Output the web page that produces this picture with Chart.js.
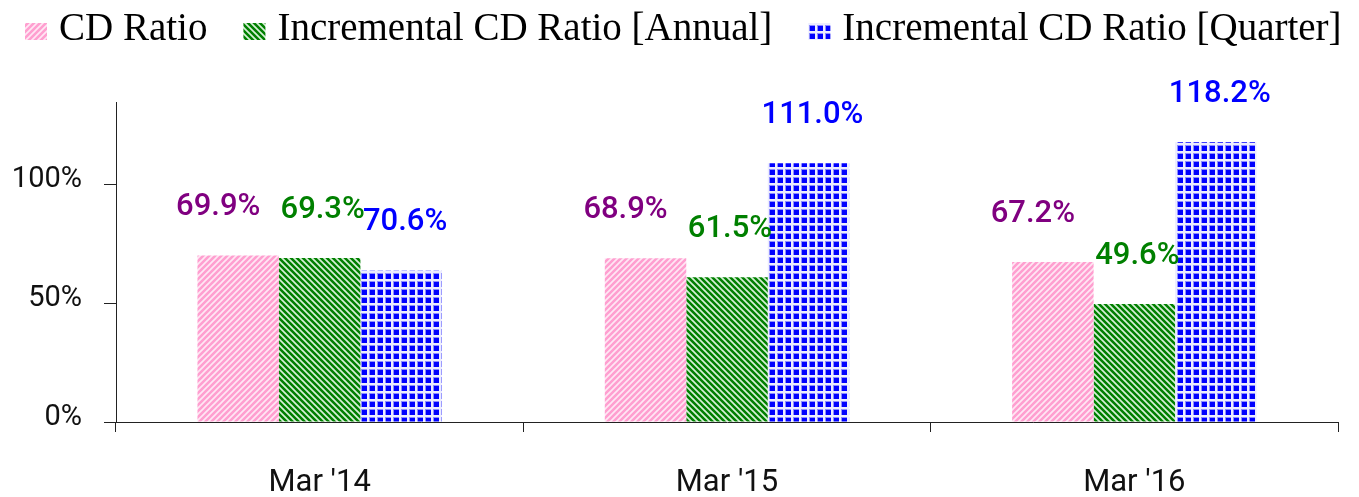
<!DOCTYPE html>
<html>
<head>
<meta charset="utf-8">
<script src="https://cdn.jsdelivr.net/npm/chart.js@4.4.0/dist/chart.umd.min.js"></script>
<style>
  html, body { margin: 0; padding: 0; background: #ffffff; }
  #wrap { width: 1359px; height: 497px; }
</style>
</head>
<body>
<div id="wrap"><canvas id="c" width="1359" height="497"></canvas></div>
<script>
// ---- data ----
const categories = ["Mar '14", "Mar '15", "Mar '16"];
const seriesNames = ["CD Ratio", "Incremental CD Ratio [Annual]", "Incremental CD Ratio [Quarter]"];
const cdRatio = [70.0, 68.8, 67.2];
const incAnnual = [68.9, 60.8, 49.6];
const incQuarter = [63.6, 108.8, 117.6];
const cdRatioLabels = ["69.9%", "68.9%", "67.2%"];
const incAnnualLabels = ["69.3%", "61.5%", "49.6%"];
const incQuarterLabels = ["70.6%", "111.0%", "118.2%"];
const yTicks = [0, 50, 100];
const yMax = 134.5;

// ---- patterns ----
function stripePattern(base, stripe, dir) {
  const s = 6;
  const c = document.createElement('canvas');
  c.width = s; c.height = s;
  const x = c.getContext('2d');
  x.fillStyle = base; x.fillRect(0, 0, s, s);
  x.strokeStyle = stripe; x.lineWidth = 1.7;
  x.beginPath();
  if (dir === '/') {
    x.moveTo(-1, s + 1); x.lineTo(s + 1, -1);
    x.moveTo(-1, 1); x.lineTo(1, -1);
    x.moveTo(s - 1, s + 1); x.lineTo(s + 1, s - 1);
  } else {
    x.moveTo(-1, -1); x.lineTo(s + 1, s + 1);
    x.moveTo(s - 1, -1); x.lineTo(s + 1, 1);
    x.moveTo(-1, s - 1); x.lineTo(1, s + 1);
  }
  x.stroke();
  return x.createPattern(c, 'repeat');
}
function gridPattern(base, line) {
  const s = 8;
  const c = document.createElement('canvas');
  c.width = s; c.height = s;
  const x = c.getContext('2d');
  x.fillStyle = line; x.fillRect(0, 0, s, s);
  x.fillStyle = 'rgba(140,140,255,1)';
  x.fillRect(1, 1, s - 2, s - 2);
  x.fillStyle = base; x.fillRect(2, 2, s - 3, s - 3);
  return x.createPattern(c, 'repeat');
}
const pinkPat = stripePattern('#ff9fd0', 'rgba(255,235,245,0.95)', '/');
const greenPat = stripePattern('#008000', 'rgba(225,245,225,0.95)', '\\');
const bluePat = gridPattern('#0000ff', '#ececff');

const labelColors = ['#800080', '#008000', '#0000ff'];
const labelTexts = [cdRatioLabels, incAnnualLabels, incQuarterLabels];
const labelDx = [-20, 3, 4];

const valueLabels = {
  id: 'valueLabels',
  afterDatasetsDraw(chart) {
    const ctx = chart.ctx;
    ctx.save();
    ctx.font = '500 31px Roboto';
    ctx.textAlign = 'center';
    ctx.textBaseline = 'middle';
    chart.data.datasets.forEach((ds, i) => {
      const meta = chart.getDatasetMeta(i);
      meta.data.forEach((el, j) => {
        ctx.fillStyle = labelColors[i];
        ctx.fillText(labelTexts[i][j], el.x + labelDx[i], el.y - 48);
      });
    });
    ctx.restore();
  }
};

const topLegend = {
  id: 'topLegend',
  afterDraw(chart) {
    const ctx = chart.ctx;
    ctx.save();
    ctx.font = '39px "Liberation Serif"';
    ctx.textBaseline = 'alphabetic';
    ctx.textAlign = 'left';
    let x = 25;
    chart.data.datasets.forEach((ds) => {
      ctx.fillStyle = ds.backgroundColor;
      ctx.fillRect(x, 23, 22, 17);
      x += 22 + 12;
      ctx.fillStyle = '#000000';
      ctx.fillText(ds.label, x, 40);
      x += ctx.measureText(ds.label).width + 36;
    });
    ctx.restore();
  }
};

new Chart(document.getElementById('c'), {
  type: 'bar',
  data: {
    labels: categories,
    datasets: [
      { label: seriesNames[0], data: cdRatio, backgroundColor: pinkPat, borderWidth: 0 },
      { label: seriesNames[1], data: incAnnual, backgroundColor: greenPat, borderWidth: 0 },
      { label: seriesNames[2], data: incQuarter, backgroundColor: bluePat, borderWidth: 0 }
    ]
  },
  options: {
    responsive: false,
    animation: false,
    events: [],
    layout: { padding: { top: 102, right: 21, left: 0, bottom: 0 } },
    datasets: { bar: { categoryPercentage: 0.6, barPercentage: 1.0 } },
    plugins: { legend: { display: false }, tooltip: { enabled: false } },
    scales: {
      x: {
        offset: true,
        grid: { offset: true, drawOnChartArea: false, drawTicks: true, tickLength: 10, color: '#222', lineWidth: 1 },
        border: { display: true, color: '#222', width: 1 },
        ticks: { color: '#111', font: { family: 'Roboto', size: 31 }, padding: 33, maxRotation: 0 },
        afterFit(scale) { scale.height = 75; }
      },
      y: {
        min: 0,
        max: yMax,
        afterBuildTicks(scale) { scale.ticks = yTicks.map(v => ({ value: v })); },
        grid: { drawOnChartArea: false, drawTicks: true, tickLength: 12, color: '#222', lineWidth: 1 },
        border: { display: true, color: '#222', width: 1 },
        ticks: { color: '#111', font: { family: 'Roboto', size: 29 }, padding: 22, labelOffset: -4, callback: v => v + '%' },
        afterFit(scale) { scale.width = 116; }
      }
    }
  },
  plugins: [valueLabels, topLegend]
});
</script>
</body>
</html>
